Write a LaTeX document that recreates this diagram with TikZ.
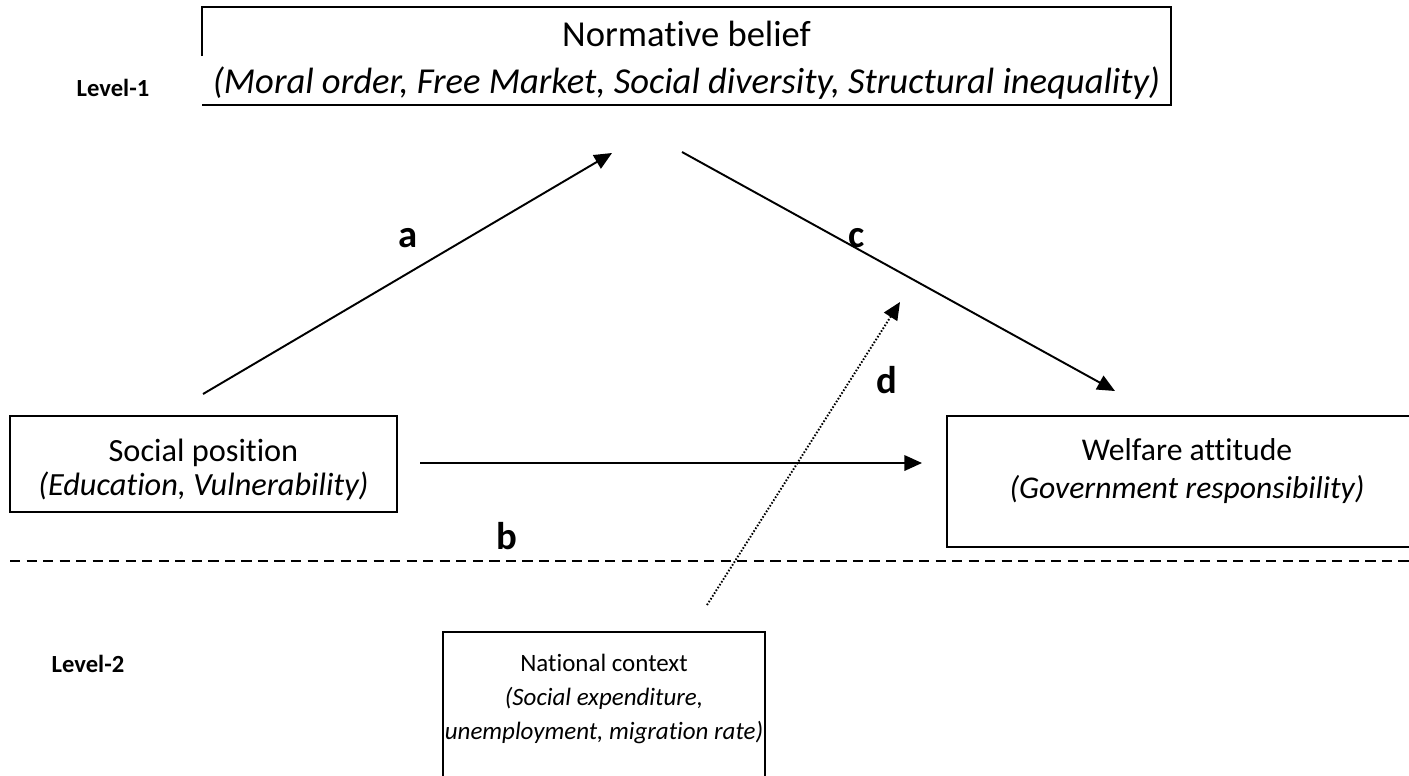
\documentclass[tikz,border=0pt]{standalone}
\usepackage{fontspec}
\setmainfont{Carlito}[Ligatures=NoCommon]
\usetikzlibrary{arrows.meta}

\tikzset{
  box/.style={draw, line width=0.6pt, inner sep=0pt},
  txt/.style={align=center, inner sep=0pt},
  lvl/.style={inner sep=0pt, font=\fontsize{7}{9}\selectfont\bfseries},
  lbl/.style={inner sep=0pt, font=\fontsize{11}{13}\selectfont\bfseries},
  link/.style={line width=0.55pt, -{Triangle[length=5pt,width=4.4pt]}},
  moder/.style={link, dash pattern=on 0.45pt off 0.5pt},
  split/.style={line width=0.6pt, dash pattern=on 2.9pt off 1.8pt},
}

\begin{document}
\begin{tikzpicture}[x=0.01cm, y=-0.01cm]
  \useasboundingbox (0,0) rectangle (1409,775);

  % Boxes
  \node[minimum width=9.67cm, minimum height=0.96cm, inner sep=0pt] (norm) at (686.5,56) {};
  \draw[line width=0.6pt] (norm.west) -- (norm.north west) -- (norm.north east)
    -- (norm.south east) -- (norm.south west);
  \node[box, minimum width=3.87cm, minimum height=0.96cm] (soc) at (203.5,464) {};
  \node[box, minimum width=4.8cm, minimum height=1.31cm] (welf) at (1187,481.5) {};
  \node[box, minimum width=3.22cm, minimum height=1.68cm] (natl) at (604,716) {};

  % Box texts
  \node[txt, font=\fontsize{10.4}{13.4}\selectfont] (normtxt) at (686.5,60)
    {Normative belief\\\itshape(Moral order, Free Market, Social diversity, Structural inequality)};
  \node[txt, font=\fontsize{9.2}{9.7}\selectfont] (soctxt) at (203.5,470)
    {Social position\\\itshape(Education, Vulnerability)};
  \node[txt, font=\fontsize{9}{10.8}\selectfont] (welftxt) at (1187,471)
    {Welfare attitude\\\itshape(Government responsibility)};
  \node[txt, font=\fontsize{7.1}{9.7}\selectfont] (natltxt) at (604,699)
    {National context\\\itshape(Social expenditure,\\\itshape unemployment, migration rate)};

  % Levels
  \node[lvl] (lvlone) at (113,88) {Level-1};
  \node[lvl] (lvltwo) at (88,664) {Level-2};
  \coordinate (sepL) at (10,561);
  \coordinate (sepR) at (1409,561);
  \draw[split] (sepL) -- (sepR);

  % Path ends
  \coordinate (atail) at (203,394);
  \coordinate (ahead) at (612,153);
  \coordinate (ctail) at (682,152);
  \coordinate (chead) at (1115,391);
  \coordinate (btail) at (420,463);
  \coordinate (bhead) at (922,463);
  \coordinate (dtail) at (707,605);
  \coordinate (dhead) at (900,302);

  \draw[link] (atail) -- (ahead);
  \draw[link] (ctail) -- (chead);
  \draw[link] (btail) -- (bhead);
  \draw[moder] (dtail) -- (dhead);

  \node[lbl] (pa) at (408,238) {a};
  \node[lbl] (pc) at (857,238) {c};
  \node[lbl] (pb) at (507,536) {b};
  \node[lbl] (pd) at (887,380) {d};
\end{tikzpicture}
\end{document}
